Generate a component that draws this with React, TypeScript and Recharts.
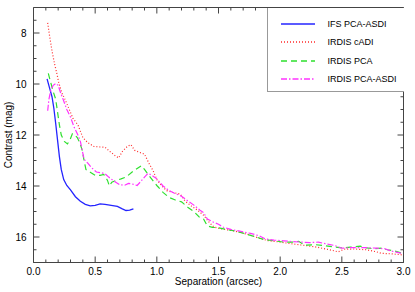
import React from "react";
import { LineChart, Line, XAxis, YAxis } from "recharts";

// separation (arcsec), contrast (mag)
const ifsPcaAsdi: [number, number][] = [
  [0.11, 9.8], [0.13, 10.15], [0.15, 10.5], [0.165, 10.95], [0.18, 11.55], [0.195, 12.2],
  [0.21, 12.85], [0.225, 13.35], [0.245, 13.75], [0.27, 13.98], [0.3, 14.15], [0.34, 14.42],
  [0.38, 14.6], [0.42, 14.72], [0.46, 14.78], [0.5, 14.76], [0.54, 14.7], [0.58, 14.72],
  [0.63, 14.76], [0.68, 14.8], [0.72, 14.9], [0.75, 14.96], [0.78, 14.95], [0.81, 14.9],
];

const irdisCadi: [number, number][] = [
  [0.115, 7.6], [0.13, 8.1], [0.15, 8.7], [0.17, 9.2], [0.19, 9.6], [0.205, 9.95], [0.23, 10.35],
  [0.26, 10.65], [0.29, 11.0], [0.32, 11.35], [0.36, 11.6], [0.4, 12.1], [0.44, 12.3], [0.49, 12.45],
  [0.54, 12.47], [0.58, 12.48], [0.62, 12.65], [0.66, 12.8], [0.69, 12.9], [0.72, 12.65],
  [0.76, 12.45], [0.79, 12.38], [0.82, 12.6], [0.86, 12.68], [0.9, 12.75], [0.935, 13.1],
  [0.97, 13.4], [1.0, 13.75], [1.04, 14.0], [1.08, 14.18], [1.13, 14.25], [1.19, 14.32],
  [1.23, 14.6], [1.28, 14.78], [1.33, 14.95], [1.38, 15.15], [1.42, 15.4], [1.46, 15.6],
  [1.52, 15.68], [1.6, 15.74], [1.68, 15.82], [1.76, 15.93], [1.83, 16.05], [1.9, 16.14],
  [2.0, 16.2], [2.1, 16.27], [2.2, 16.33], [2.3, 16.4], [2.4, 16.5], [2.47, 16.58], [2.52, 16.48],
  [2.6, 16.47], [2.7, 16.5], [2.78, 16.58], [2.82, 16.64], [2.9, 16.66], [2.99, 16.7],
];

const irdisPca: [number, number][] = [
  [0.12, 9.58], [0.14, 9.95], [0.16, 10.3], [0.18, 10.6], [0.195, 11.1], [0.21, 11.6], [0.225, 12.0],
  [0.25, 12.25], [0.275, 12.35], [0.295, 12.2], [0.315, 11.95], [0.335, 12.0], [0.355, 12.1],
  [0.375, 12.3], [0.395, 12.6], [0.41, 13.0], [0.425, 13.35], [0.46, 13.46], [0.5, 13.58],
  [0.54, 13.58], [0.57, 13.55], [0.6, 13.78], [0.615, 14.0], [0.635, 13.85], [0.67, 13.78],
  [0.71, 13.72], [0.75, 13.65], [0.8, 13.45], [0.85, 13.28], [0.875, 13.2], [0.9, 13.35],
  [0.93, 13.55], [0.97, 13.8], [1.0, 13.98], [1.05, 14.25], [1.1, 14.45], [1.15, 14.55],
  [1.2, 14.62], [1.25, 14.83], [1.3, 15.0], [1.35, 15.25], [1.38, 15.3], [1.41, 15.57],
  [1.45, 15.62], [1.5, 15.64], [1.56, 15.7], [1.62, 15.75], [1.7, 15.85], [1.79, 15.98],
  [1.87, 16.1], [1.95, 16.15], [2.03, 16.2], [2.1, 16.2], [2.15, 16.17], [2.2, 16.32],
  [2.28, 16.3], [2.35, 16.33], [2.42, 16.38], [2.5, 16.43], [2.57, 16.4], [2.65, 16.36],
  [2.7, 16.43], [2.76, 16.46], [2.82, 16.44], [2.87, 16.5], [2.93, 16.55], [2.99, 16.64],
];

const irdisPcaAsdi: [number, number][] = [
  [0.115, 11.05], [0.125, 10.6], [0.14, 10.25], [0.16, 10.05], [0.18, 9.98], [0.2, 10.05],
  [0.22, 10.35], [0.24, 10.6], [0.27, 11.0], [0.3, 11.3], [0.33, 11.7], [0.36, 12.0], [0.38, 12.25],
  [0.395, 12.6], [0.41, 12.95], [0.44, 13.1], [0.47, 13.28], [0.51, 13.45], [0.55, 13.48],
  [0.58, 13.52], [0.61, 13.65], [0.65, 13.8], [0.7, 13.95], [0.74, 13.97], [0.77, 13.9],
  [0.8, 13.92], [0.84, 13.98], [0.87, 13.82], [0.9, 13.65], [0.93, 13.5], [0.96, 13.58],
  [1.0, 13.72], [1.05, 14.0], [1.1, 14.18], [1.15, 14.3], [1.2, 14.4], [1.25, 14.58],
  [1.3, 14.75], [1.35, 14.95], [1.38, 15.05], [1.41, 15.3], [1.46, 15.42], [1.5, 15.5],
  [1.54, 15.62], [1.6, 15.7], [1.68, 15.78], [1.76, 15.86], [1.83, 15.95], [1.88, 16.08],
  [1.95, 16.12], [2.03, 16.15], [2.1, 16.18], [2.17, 16.2], [2.24, 16.22], [2.31, 16.2],
  [2.38, 16.28], [2.44, 16.33], [2.5, 16.44], [2.56, 16.42], [2.63, 16.42], [2.71, 16.42],
  [2.78, 16.44], [2.85, 16.46], [2.9, 16.55], [2.95, 16.6], [2.99, 16.65],
];

const xMajor = [0, 0.5, 1.0, 1.5, 2.0, 2.5, 3.0];
const yMajor = [8, 10, 12, 14, 16];

// minor ticks every 0.1 arcsec and every 0.5 mag
const xTicks = Array.from({ length: 31 }, (_, i) => i / 10);
const yTicks = Array.from({ length: 20 }, (_, i) => 7.5 + i * 0.5);

const FONT = "'Liberation Sans', Arial, Helvetica, sans-serif";
const AXIS = "#444";

const series = [
  { name: "IFS PCA-ASDI", pts: ifsPcaAsdi, color: "#2424ff", dash: undefined, width: 1.3 },
  { name: "IRDIS cADI", pts: irdisCadi, color: "#ff2a2a", dash: "1 2", width: 1.2 },
  { name: "IRDIS PCA", pts: irdisPca, color: "#2ee02e", dash: "6 4", width: 1.2 },
  { name: "IRDIS PCA-ASDI", pts: irdisPcaAsdi, color: "#ff33ff", dash: "6 2 1.5 2", width: 1.2 },
];

const makeTick = (side: "left" | "right" | "top" | "bottom") => (props: any) => {
  const { x, y, payload } = props;
  const v = payload.value as number;
  const isX = side === "top" || side === "bottom";
  const major = (isX ? xMajor : yMajor).some((m) => Math.abs(m - v) < 1e-6);
  const len = major ? 6 : 3;
  let line;
  if (side === "left") line = <line x1={x} y1={y} x2={x + len} y2={y} stroke={AXIS} />;
  else if (side === "right") line = <line x1={x} y1={y} x2={x - len} y2={y} stroke={AXIS} />;
  else if (side === "top") line = <line x1={x} y1={y} x2={x} y2={y + len} stroke={AXIS} />;
  else line = <line x1={x} y1={y} x2={x} y2={y - len} stroke={AXIS} />;
  let label = null;
  if (major && side === "left") {
    label = (
      <text x={x - 7} y={y + 3.5} textAnchor="end" fontSize={10} fontFamily={FONT} fill="#000">
        {v}
      </text>
    );
  }
  if (major && side === "bottom") {
    label = (
      <text x={x} y={y + 12.5} textAnchor="middle" fontSize={10} fontFamily={FONT} fill="#000">
        {v.toFixed(1)}
      </text>
    );
  }
  return (
    <g>
      {line}
      {label}
    </g>
  );
};

const LegendBox = () => (
  <div
    style={{
      position: "absolute",
      left: 266.5,
      top: 7.5,
      width: 137,
      height: 84,
      borderLeft: "1px solid #999",
      borderBottom: "1px solid #999",
      boxSizing: "border-box",
      background: "#fff",
      fontFamily: FONT,
      fontSize: 9,
      paddingTop: 7,
    }}
  >
    {series.map((s) => (
      <div key={s.name} style={{ display: "flex", alignItems: "center", height: 18.5 }}>
        <svg width={47} height={6} style={{ marginLeft: 13 }}>
          <line x1={0} y1={3} x2={34} y2={3} stroke={s.color} strokeWidth={s.width + 0.4} strokeDasharray={s.dash} />
        </svg>
        <span style={{ color: "#000" }}>{s.name}</span>
      </div>
    ))}
  </div>
);

export default function App() {
  return (
    <div style={{ position: "absolute", left: 0, top: 0, width: 415, height: 292, background: "#fff" }}>
      <LineChart width={415} height={292} margin={{ top: 0.5, right: 0, bottom: 0, left: 0.5 }}>
        <XAxis
          xAxisId="b"
          type="number"
          dataKey="x"
          domain={[0, 3]}
          ticks={xTicks}
          interval={0}
          height={29.5}
          tickSize={0}
          tickMargin={0}
          tickLine={false}
          axisLine={{ stroke: AXIS }}
          tick={makeTick("bottom")}
          allowDataOverflow
          label={{
            content: (p: any) => {
              const vb = p.viewBox;
              return (
                <text x={vb.x + vb.width / 2} y={vb.y + 22} textAnchor="middle" fontSize={10} fontFamily={FONT} fill="#000">
                  Separation (arcsec)
                </text>
              );
            },
          }}
        />
        <XAxis
          xAxisId="t"
          orientation="top"
          type="number"
          dataKey="x"
          domain={[0, 3]}
          ticks={xTicks}
          interval={0}
          height={7}
          tickSize={0}
          tickMargin={0}
          tickLine={false}
          axisLine={{ stroke: AXIS }}
          tick={makeTick("top")}
          allowDataOverflow
        />
        <YAxis
          yAxisId="l"
          type="number"
          dataKey="y"
          domain={[7, 17]}
          reversed
          ticks={yTicks}
          interval={0}
          width={33}
          tickSize={0}
          tickMargin={0}
          tickLine={false}
          axisLine={{ stroke: AXIS }}
          tick={makeTick("left")}
          allowDataOverflow
          label={{
            content: (p: any) => {
              const vb = p.viewBox;
              const cy = vb.y + vb.height / 2;
              return (
                <text
                  x={12}
                  y={cy}
                  transform={`rotate(-90 12 ${cy})`}
                  textAnchor="middle"
                  fontSize={10}
                  fontFamily={FONT}
                  fill="#000"
                >
                  Contrast (mag)
                </text>
              );
            },
          }}
        />
        <YAxis
          yAxisId="r"
          orientation="right"
          type="number"
          dataKey="y"
          domain={[7, 17]}
          reversed
          ticks={yTicks}
          interval={0}
          width={11.5}
          tickSize={0}
          tickMargin={0}
          tickLine={false}
          axisLine={{ stroke: AXIS }}
          tick={makeTick("right")}
          allowDataOverflow
        />
        {series.map((s) => (
          <Line
            key={s.name}
            xAxisId="b"
            yAxisId="l"
            name={s.name}
            data={s.pts.map(([x, y]) => ({ x, y }))}
            dataKey="y"
            type="linear"
            stroke={s.color}
            strokeWidth={s.width}
            strokeDasharray={s.dash}
            dot={false}
            activeDot={false}
            isAnimationActive={false}
          />
        ))}
      </LineChart>
      <LegendBox />
    </div>
  );
}
